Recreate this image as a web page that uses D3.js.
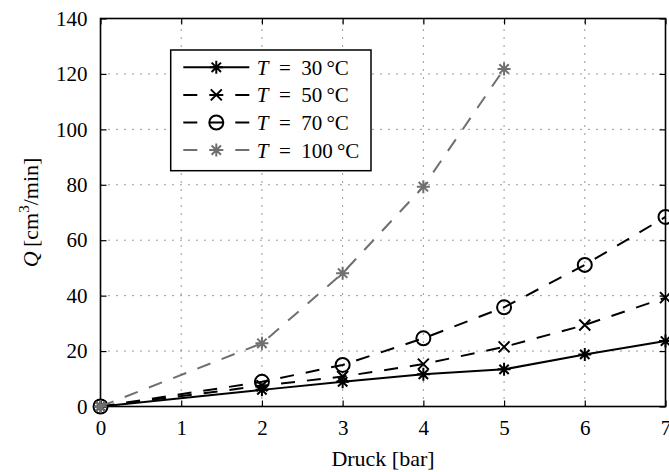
<!DOCTYPE html>
<html>
<head>
<meta charset="utf-8">
<script src="https://cdn.jsdelivr.net/npm/d3@7"></script>
<style>
  html, body { margin: 0; padding: 0; background: #fff; }
  svg { display: block; }
  text { font-family: "Liberation Serif", "Times New Roman", serif; fill: #000; }
</style>
</head>
<body>
<svg id="chart" width="669" height="472"></svg>
<script>
// Flow rate Q over pressure for four temperatures
const pressure = [0, 2, 3, 4, 5, 6, 7];
const q30 = [0, 6.0, 8.9, 11.6, 13.4, 18.8, 23.6];
const q50 = [0, 7.5, 10.8, 15.3, 21.5, 29.4, 39.3];
const q70 = [0, 8.9, 15.0, 24.6, 35.8, 51.1, 68.4];
const pressure100 = [0, 2, 3, 4, 5];
const q100 = [0, 22.8, 48.1, 79.3, 121.8];

const xTicks = [0, 1, 2, 3, 4, 5, 6, 7];
const yTicks = [0, 20, 40, 60, 80, 100, 120, 140];
const legendTemps = ["30", "50", "70", "100"];

const W = 669, H = 472;
const plot = { left: 100.5, right: 665.5, top: 18.5, bottom: 406.5 };

const svg = d3.select("#chart");
const x = d3.scaleLinear().domain([0, 7]).range([plot.left, plot.right]);
const y = d3.scaleLinear().domain([0, 140]).range([plot.bottom, plot.top]);

const GRAY = "#6f6f6f";
const series = [
  { xs: pressure, ys: q30, color: "#000", dash: null, marker: "star" },
  { xs: pressure, ys: q50, color: "#000", dash: "14,12", marker: "cross" },
  { xs: pressure, ys: q70, color: "#000", dash: "14,12", marker: "circle" },
  { xs: pressure100, ys: q100, color: GRAY, dash: "14,12", marker: "star" }
];

// grid (dotted)
const grid = svg.append("g").attr("stroke", "#333").attr("stroke-width", 1)
  .attr("stroke-dasharray", "1,7").attr("fill", "none");
xTicks.slice(1, -1).forEach(t => {
  grid.append("line").attr("x1", x(t)).attr("x2", x(t)).attr("y1", plot.bottom).attr("y2", plot.top);
});
yTicks.slice(1, -1).forEach(t => {
  grid.append("line").attr("y1", y(t)).attr("y2", y(t)).attr("x1", plot.left).attr("x2", plot.right);
});

// axes with inward ticks on all four sides
const tickLen = 6;
const axB = svg.append("g").attr("transform", `translate(0,${plot.bottom})`)
  .call(d3.axisBottom(x).tickValues(xTicks).tickSizeInner(-tickLen).tickSizeOuter(0).tickPadding(14).tickFormat(d3.format("d")));
const axT = svg.append("g").attr("transform", `translate(0,${plot.top})`)
  .call(d3.axisTop(x).tickValues(xTicks).tickSizeInner(-tickLen).tickSizeOuter(0).tickFormat(""));
const axL = svg.append("g").attr("transform", `translate(${plot.left},0)`)
  .call(d3.axisLeft(y).tickValues(yTicks).tickSizeInner(-tickLen).tickSizeOuter(0).tickPadding(13).tickFormat(d3.format("d")));
const axR = svg.append("g").attr("transform", `translate(${plot.right},0)`)
  .call(d3.axisRight(y).tickValues(yTicks).tickSizeInner(-tickLen).tickSizeOuter(0).tickFormat(""));
[axB, axT, axL, axR].forEach(a => {
  a.select(".domain").remove();
  a.selectAll(".tick line").attr("stroke", "#000").attr("stroke-width", 1.2);
  a.selectAll("text").attr("font-family", "Liberation Serif").attr("font-size", 21).attr("fill", "#000");
});

// box
svg.append("rect").attr("x", plot.left).attr("y", plot.top)
  .attr("width", plot.right - plot.left).attr("height", plot.bottom - plot.top)
  .attr("fill", "none").attr("stroke", "#000").attr("stroke-width", 1.6);

// markers
function drawMarker(g, type, cx, cy, color) {
  if (type === "star") {
    const r = 6.5, d = r * 0.72;
    const p = `M${cx - r},${cy}L${cx + r},${cy}M${cx},${cy - r}L${cx},${cy + r}` +
              `M${cx - d},${cy - d}L${cx + d},${cy + d}M${cx - d},${cy + d}L${cx + d},${cy - d}`;
    g.append("path").attr("d", p).attr("stroke", color).attr("stroke-width", 2).attr("fill", "none");
  } else if (type === "cross") {
    const r = 5.5;
    g.append("path").attr("d", `M${cx - r},${cy - r}L${cx + r},${cy + r}M${cx - r},${cy + r}L${cx + r},${cy - r}`)
      .attr("stroke", color).attr("stroke-width", 2).attr("fill", "none");
  } else {
    g.append("circle").attr("cx", cx).attr("cy", cy).attr("r", 7)
      .attr("stroke", color).attr("stroke-width", 2).attr("fill", "none");
  }
}

// series
const line = d3.line().x(d => x(d[0])).y(d => y(d[1]));
series.forEach(s => {
  const pts = s.xs.map((v, i) => [v, s.ys[i]]);
  const g = svg.append("g");
  g.append("path").attr("d", line(pts)).attr("fill", "none")
    .attr("stroke", s.color).attr("stroke-width", 2)
    .attr("stroke-dasharray", s.dash);
  pts.forEach(p => drawMarker(g, s.marker, x(p[0]), y(p[1]), s.color));
});

// axis titles
svg.append("text").attr("x", (plot.left + plot.right) / 2).attr("y", 466)
  .attr("text-anchor", "middle").attr("font-size", 22).text("Druck [bar]");

const yl = svg.append("text").attr("transform", `translate(38,${(plot.top + plot.bottom) / 2}) rotate(-90)`)
  .attr("text-anchor", "middle").attr("font-size", 22);
yl.append("tspan").attr("font-style", "italic").text("Q");
yl.append("tspan").text("\u2009[cm");
yl.append("tspan").attr("font-size", 15).attr("dy", -9).text("3");
yl.append("tspan").attr("dy", 9).text("/min]");

// legend
const lg = svg.append("g");
lg.append("rect").attr("x", 170.7).attr("y", 50).attr("width", 200.3).attr("height", 120.7)
  .attr("fill", "#fff").attr("stroke", "#000").attr("stroke-width", 1.5);
series.forEach((s, i) => {
  const cy = 67.3 + i * 27.6;
  lg.append("line").attr("x1", 183.3).attr("x2", 249.3).attr("y1", cy).attr("y2", cy)
    .attr("stroke", s.color).attr("stroke-width", 2).attr("stroke-dasharray", s.dash);
  drawMarker(lg, s.marker, 216.3, cy, s.color);
  const t = lg.append("text").attr("x", 256.7).attr("y", cy + 7.5).attr("font-size", 21);
  t.append("tspan").attr("font-style", "italic").text("T");
  t.append("tspan").text("\u2002=\u2002" + legendTemps[i] + "\u2009\u00B0C");
});
</script>
</body>
</html>
